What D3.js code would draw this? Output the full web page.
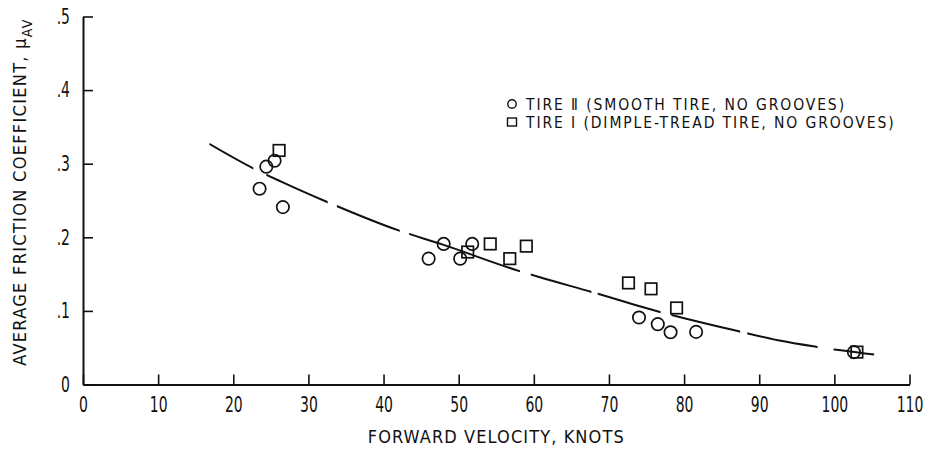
<!DOCTYPE html>
<html><head><meta charset="utf-8">
<script src="https://cdn.jsdelivr.net/npm/d3@7"></script>
<style>
body{margin:0;background:#fff;}
svg text{font-family:"DejaVu Sans Condensed","DejaVu Sans",sans-serif;font-stretch:condensed;fill:#111;}
</style></head><body>
<svg id="c" width="925" height="449"></svg>
<script>
// Tire II (smooth tire, no grooves) – circles
const tire2Velocity = [23.5, 24.4, 25.5, 26.6, 46.0, 48.0, 50.2, 51.8, 74.0, 76.5, 78.2, 81.6, 102.6];
const tire2Mu       = [0.266, 0.296, 0.304, 0.241, 0.171, 0.191, 0.171, 0.191, 0.091, 0.082, 0.071, 0.0715, 0.044];
// Tire I (dimple-tread tire, no grooves) – squares
const tire1Velocity = [26.1, 51.2, 54.2, 56.8, 59.0, 72.6, 75.6, 79.0, 103.0];
const tire1Mu       = [0.318, 0.180, 0.191, 0.171, 0.188, 0.138, 0.130, 0.104, 0.044];
// faired curve
const curveVelocity = [16.8, 22.6, 26.3, 32.5, 42.1, 47.9, 58.1, 60.7, 67.6, 76.8, 87.4, 92.5, 97.7, 105.3];
const curveMu       = [0.327, 0.294, 0.276, 0.248, 0.209, 0.190, 0.154, 0.146, 0.126, 0.0986, 0.072, 0.060, 0.051, 0.0407];
// dash extents along the curve (velocity)
const dashStart = [16.8, 24.4, 33.8, 43.4, 59.6, 68.5, 78.3, 88.4, 99.9];
const dashEnd   = [22.6, 32.5, 42.1, 58.1, 67.6, 76.8, 87.4, 97.7, 105.3];
const xTicks = [0,10,20,30,40,50,60,70,80,90,100,110];
const yTicks = [0,0.1,0.2,0.3,0.4,0.5];
const legendLabels = ["TIRE \u2161 (SMOOTH TIRE, NO GROOVES)", "TIRE \u2160 (DIMPLE-TREAD TIRE, NO GROOVES)"];

const svg = d3.select("#c");
const x = d3.scaleLinear().domain([0,110]).range([83, 909.5]);
const y = d3.scaleLinear().domain([0,0.5]).range([384.5, 16.5]);

const fmtY = d => d === 0 ? "0" : d3.format(".1f")(d).replace(/^0/, "");

const gx = svg.append("g").attr("transform","translate(0,384.5)")
  .call(d3.axisBottom(x).tickValues(xTicks).tickSize(-10).tickSizeOuter(0).tickPadding(13).tickFormat(d3.format("d")));
const gy = svg.append("g").attr("transform","translate(83,0)")
  .call(d3.axisLeft(y).tickValues(yTicks).tickSize(-10).tickSizeOuter(0).tickPadding(12).tickFormat(fmtY));
[gx, gy].forEach(g => {
  g.select(".domain").attr("stroke","#111").attr("stroke-width",2);
  g.selectAll(".tick line").attr("stroke","#111").attr("stroke-width",1.6);
  g.selectAll(".tick text").style("font-size","21px").attr("fill","#111");
});
gx.selectAll(".tick text").attr("transform","scale(0.74,1)");
gy.selectAll(".tick text").attr("x",0).attr("transform","translate(-13,0) scale(0.74,1)");

// axis titles
svg.append("text").attr("x", x(55)).attr("y", 443).attr("text-anchor","middle")
  .style("font-size","18px").style("letter-spacing","1.1px").text("FORWARD VELOCITY, KNOTS");
const yt = svg.append("text").attr("transform","translate(26,192) rotate(-90)")
  .attr("text-anchor","middle").style("font-size","18px").style("letter-spacing","1.3px");
yt.append("tspan").text("AVERAGE FRICTION COEFFICIENT, \u03bc");
yt.append("tspan").attr("dy","6").style("font-size","14px").text("AV");

// curve, dashed through clip
const line = d3.line().x(d => x(d[0])).y(d => y(d[1])).curve(d3.curveMonotoneX);
const pts = curveVelocity.map((v,i) => [v, curveMu[i]]);
const clip = svg.append("clipPath").attr("id","dash");
dashStart.forEach((s,i) => {
  clip.append("rect").attr("x", x(s)).attr("width", x(dashEnd[i]) - x(s) + 0.5).attr("y", 0).attr("height", 449);
});
svg.append("path").datum(pts).attr("d", line).attr("fill","none")
  .attr("stroke","#111").attr("stroke-width",2).attr("clip-path","url(#dash)");

// markers
svg.append("g").selectAll("circle").data(tire2Velocity).join("circle")
  .attr("cx", d => x(d)).attr("cy", (d,i) => y(tire2Mu[i])).attr("r", 6.2)
  .attr("fill","none").attr("stroke","#111").attr("stroke-width",1.7);
const sq = 11.5;
svg.append("g").selectAll("rect").data(tire1Velocity).join("rect")
  .attr("x", d => x(d) - sq/2).attr("y", (d,i) => y(tire1Mu[i]) - sq/2)
  .attr("width", sq).attr("height", sq)
  .attr("fill","none").attr("stroke","#111").attr("stroke-width",1.7);

// legend
svg.append("circle").attr("cx",512).attr("cy",104).attr("r",4.2).attr("fill","none").attr("stroke","#111").attr("stroke-width",1.4);
svg.append("rect").attr("x",507.5).attr("y",118).attr("width",9).attr("height",8).attr("fill","none").attr("stroke","#111").attr("stroke-width",1.4);
legendLabels.forEach((t,i) => {
  svg.append("text").attr("x",526).attr("y",110 + i*18).style("font-size","15.5px").style("letter-spacing","1.9px").text(t);
});
</script></body></html>
